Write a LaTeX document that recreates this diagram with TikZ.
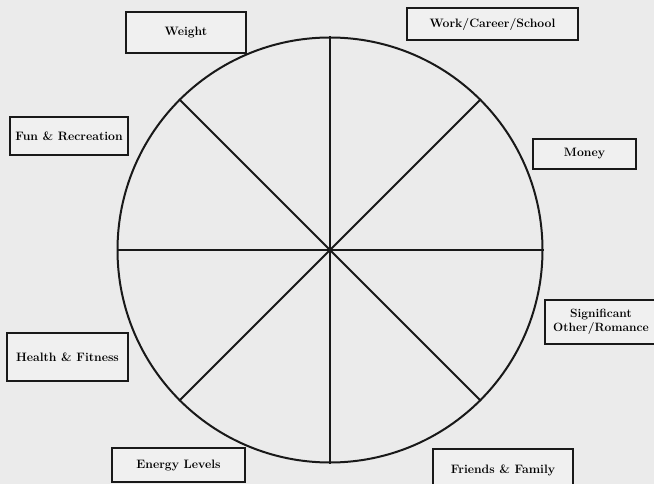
\documentclass[tikz,border=0pt]{standalone}
\begin{document}
\begin{tikzpicture}[x=1pt,y=-1pt,
  lbl/.style={draw=black!90, line width=1.8pt, fill=white!94!black, inner sep=0pt,
    font=\fontsize{12.2}{14}\selectfont\bfseries, align=center},
  wheel/.style={draw=black!90, line width=2pt, circle, minimum size=425pt, inner sep=0pt},
  spoke/.style={draw=black!90, line width=1.8pt}]
\useasboundingbox[fill=black!8] (0,0) rectangle (654,484);
\node[wheel] (w) at (330,250) {};
\foreach \a in {0,45,...,315} \draw[spoke] (w.center) -- (w.\a);
\node[lbl, minimum width=120pt, minimum height=41pt] (weight) at (186,32.5) {Weight};
\node[lbl, minimum width=171pt, minimum height=32pt] (work) at (492.5,24) {Work/Career/School};
\node[lbl, minimum width=118pt, minimum height=38pt] (fun) at (69,136) {Fun \& Recreation};
\node[lbl, minimum width=103pt, minimum height=30pt] (money) at (584.5,154) {Money};
\node[lbl, minimum width=118pt, minimum height=44pt] (sig) at (604,322) {};
\node[font=\fontsize{12}{14}\selectfont\bfseries, align=center] (sigtext) at (601,322) {Significant\\Other/Romance};
\node[lbl, minimum width=121pt, minimum height=48pt] (health) at (67.5,357) {Health \& Fitness};
\node[lbl, minimum width=133pt, minimum height=34pt] (energy) at (178.5,465) {Energy Levels};
\node[lbl, minimum width=140pt, minimum height=42pt] (friends) at (503,470) {Friends \& Family};
\end{tikzpicture}
\end{document}
